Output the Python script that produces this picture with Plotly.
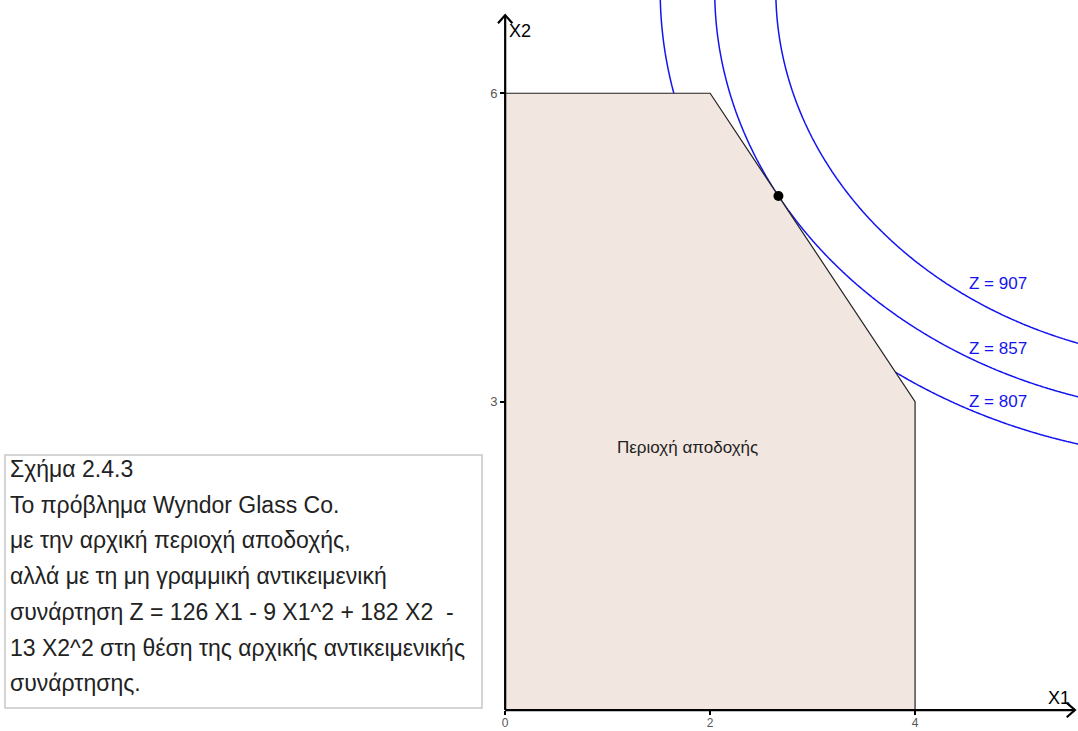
import numpy as np
import plotly.graph_objects as go

W, H = 1078, 731

# Feasible region vertices
region_x = [0, 0, 2, 4, 4]
region_y = [0, 6, 6, 3, 0]

# Optimum point
opt_x = [8 / 3]
opt_y = [5]

# Objective Z = a*X1 + b*X1^2 + c*X2 + d*X2^2
coef = [126, -9, 182, -13]
z_levels = [807, 857, 907]
z_labels = ["Z = 907", "Z = 857", "Z = 807"]
z_label_y = [4.15, 3.52, 3.0]

x_ticks = [0, 2, 4]
y_ticks = [3, 6]

caption = [
    "Σχήμα 2.4.3",
    "Το πρόβλημα Wyndor Glass Co.",
    "με την αρχική περιοχή αποδοχής,",
    "αλλά με τη μη γραμμική αντικειμενική",
    "συνάρτηση Z = 126 X1 - 9 X1^2 + 182 X2  -",
    "13 X2^2 στη θέση της αρχικής αντικειμενικής",
    "συνάρτησης.",
]

XR = [-4.93, 5.59]
YR = [-0.204, 6.907]

fig = go.Figure()

# region
fig.add_trace(go.Scatter(
    x=region_x + [region_x[0]], y=region_y + [region_y[0]],
    fill="toself", fillcolor="#F2E6E1", mode="lines",
    line=dict(color="#222222", width=1.2), hoverinfo="skip", showlegend=False))

# contour curves
gx = np.linspace(0.5, 5.8, 400)
gy = np.linspace(0.5, 7.2, 400)
GX, GY = np.meshgrid(gx, gy)
Z = coef[0] * GX + coef[1] * GX ** 2 + coef[2] * GY + coef[3] * GY ** 2
fig.add_trace(go.Contour(
    x=gx, y=gy, z=Z, showscale=False,
    contours=dict(start=z_levels[0], end=z_levels[-1], size=z_levels[1] - z_levels[0],
                  coloring="lines"),
    colorscale=[[0, "#1414F0"], [1, "#1414F0"]],
    line=dict(width=1.5, smoothing=1.3), hoverinfo="skip"))

# axes lines
fig.add_trace(go.Scatter(x=[0, 5.56], y=[0, 0], mode="lines",
                         line=dict(color="black", width=2.2), hoverinfo="skip", showlegend=False))
fig.add_trace(go.Scatter(x=[0, 0], y=[0, 6.76], mode="lines",
                         line=dict(color="black", width=2.2), hoverinfo="skip", showlegend=False))
# arrow chevrons
fig.add_trace(go.Scatter(x=[5.48, 5.56, 5.48], y=[0.07, 0, -0.07], mode="lines",
                         line=dict(color="black", width=2.2), hoverinfo="skip", showlegend=False))
fig.add_trace(go.Scatter(x=[-0.07, 0, 0.07], y=[6.68, 6.76, 6.68], mode="lines",
                         line=dict(color="black", width=2.2), hoverinfo="skip", showlegend=False))

# optimum point
fig.add_trace(go.Scatter(x=opt_x, y=opt_y, mode="markers",
                         marker=dict(color="black", size=10), hoverinfo="skip", showlegend=False))

py0 = (0 - YR[0]) / (YR[1] - YR[0])
px0 = (0 - XR[0]) / (XR[1] - XR[0])

font = "Liberation Sans, Arial"
fig.update_layout(
    width=W, height=H, margin=dict(l=0, r=0, t=0, b=0, autoexpand=False),
    plot_bgcolor="white", paper_bgcolor="white", showlegend=False,
    xaxis=dict(range=XR, showgrid=False, zeroline=False, showline=False, automargin=False,
               anchor="free", position=py0, tickmode="array", tickvals=x_ticks,
               ticks="outside", ticklen=4, tickwidth=2, tickcolor="black",
               ticklabelstandoff=-2,
               tickfont=dict(family=font, size=12, color="#555")),
    yaxis=dict(range=YR, showgrid=False, zeroline=False, showline=False, automargin=False,
               anchor="free", position=px0, tickmode="array", tickvals=y_ticks,
               ticks="outside", ticklen=5, tickwidth=2, tickcolor="black",
               tickfont=dict(family=font, size=13, color="#555")),
)

ann = []
for lab, yy in zip(z_labels, z_label_y):
    ann.append(dict(x=4.51, y=yy, text=lab, showarrow=False, xanchor="left",
                    font=dict(family=font, size=17, color="#1414F0")))
ann.append(dict(x=1.78, y=2.55, text="Περιοχή αποδοχής", showarrow=False,
                font=dict(family=font, size=17, color="#222")))
ann.append(dict(x=5.40, y=0.117, text="X1", showarrow=False, xanchor="center", yanchor="middle",
                font=dict(family=font, size=18, color="black")))
ann.append(dict(x=0.02, y=6.72, text="X2", showarrow=False, xanchor="left", yanchor="top",
                font=dict(family=font, size=18, color="black")))

for i, line in enumerate(caption):
    ypix = 469 + i * 35.7
    ann.append(dict(xref="paper", yref="paper", x=8 / W, y=1 - ypix / H, text=line,
                    showarrow=False, xanchor="left", yanchor="middle",
                    font=dict(family=font, size=23, color="#222")))
fig.update_layout(annotations=ann)

fig.add_shape(type="rect", xref="paper", yref="paper",
              x0=5 / W, x1=482 / W, y0=1 - 708 / H, y1=1 - 455 / H,
              line=dict(color="#C8C8C8", width=1.5), fillcolor="rgba(0,0,0,0)")

fig.write_html("out.html", config={"displayModeBar": False},
               post_script="document.body.style.margin='0px';document.body.style.overflow='hidden';")
